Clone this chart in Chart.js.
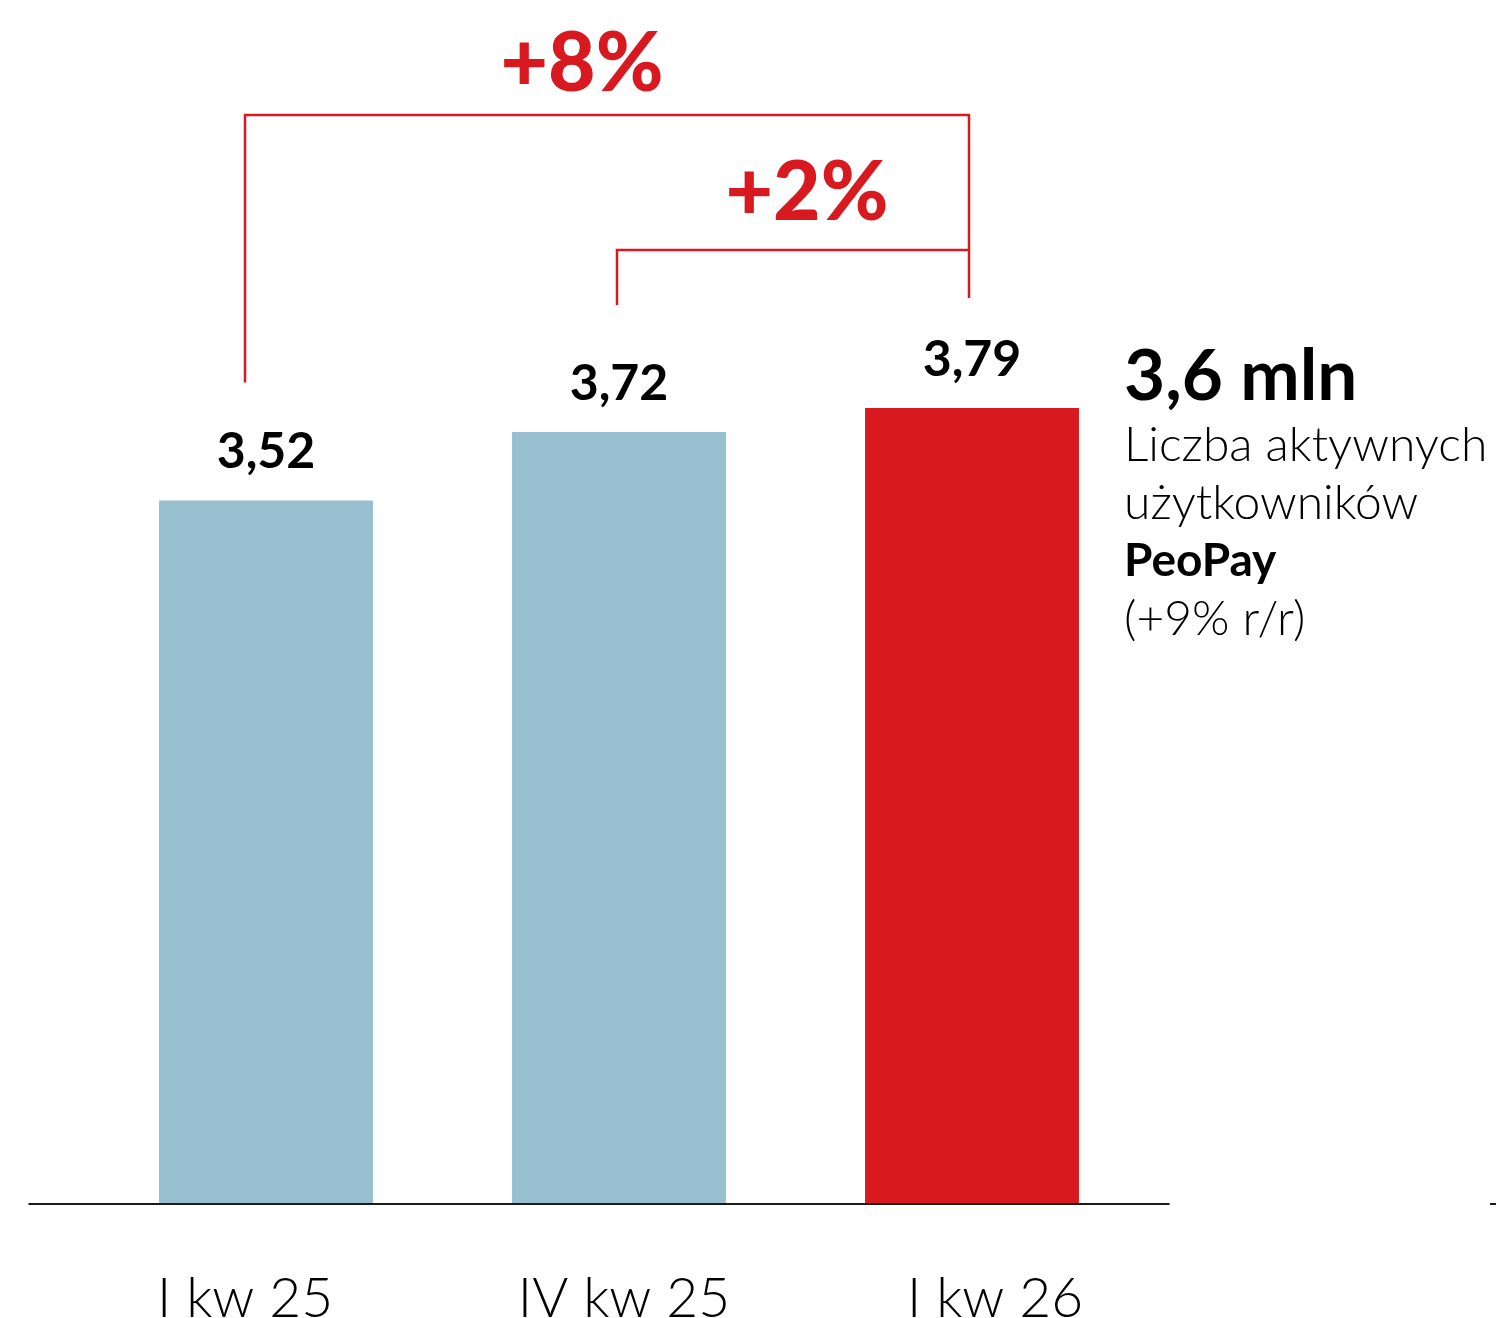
<!DOCTYPE html>
<html><head><meta charset="utf-8">
<script src="https://cdn.jsdelivr.net/npm/chart.js@4.4.1/dist/chart.umd.min.js"></script>
<style>
html,body{margin:0;padding:0;background:#fff;width:1496px;height:1318px;overflow:hidden;font-family:Lato,"Open Sans",sans-serif;}
#wrap{position:absolute;left:0;top:0;width:1496px;height:1318px;overflow:hidden;}
#side{position:absolute;left:1124px;top:332px;color:#000;white-space:nowrap;}
#side .big{font-weight:700;font-size:71px;line-height:82px;}
#side .l{font-weight:300;font-size:48px;line-height:58px;}
#side .b{font-weight:700;font-size:46px;line-height:58px;}
</style></head>
<body>
<div id="wrap"><canvas id="c" width="1496" height="1318"></canvas></div>
<div id="side">
<div class="big">3,6 mln</div>
<div class="l">Liczba aktywnych</div>
<div class="l">użytkowników</div>
<div class="b">PeoPay</div>
<div class="l">(+9% r/r)</div>
</div>
<script>
const categories = ["I kw 25", "IV kw 25", "I kw 26"];
const values = [3.52, 3.72, 3.79];
const valueLabels = ["3,52", "3,72", "3,79"];
const changeLabels = ["+8%", "+2%"];
const barColors = ["#98bfcf", "#98bfcf", "#d91920"];
const RED = "#d91920";
const catLabelShift = [-21, 5, 23];

const annot = {
  id: 'annot',
  afterDatasetsDraw(chart) {
    const ctx = chart.ctx;
    const meta = chart.getDatasetMeta(0);
    const xs = meta.data.map(b => b.x);
    const ys = meta.data.map(b => b.y);
    const ca = chart.chartArea;
    ctx.save();
    // baseline
    ctx.strokeStyle = "#1a1a1a";
    ctx.lineWidth = 2;
    ctx.beginPath();
    ctx.moveTo(ca.left - 61, ca.bottom + 1);
    ctx.lineTo(ca.right + 21, ca.bottom + 1);
    ctx.moveTo(1490, ca.bottom + 1);
    ctx.lineTo(1496, ca.bottom + 1);
    ctx.stroke();
    // category labels
    ctx.fillStyle = "#000";
    ctx.font = "300 55px Lato";
    ctx.textAlign = "center";
    ctx.textBaseline = "alphabetic";
    categories.forEach((t, i) => ctx.fillText(t, xs[i] + catLabelShift[i], ca.bottom + 114));
    // value labels
    ctx.font = "700 50px Lato";
    valueLabels.forEach((t, i) => ctx.fillText(t, xs[i], ys[i] - 32));
    // brackets
    ctx.strokeStyle = RED;
    ctx.lineWidth = 2.5;
    const topY = ys[2] - 293;
    const midY = ys[2] - 158;
    const rx = xs[2] - 3;
    ctx.beginPath();
    ctx.moveTo(xs[0] - 21, ys[0] - 118);
    ctx.lineTo(xs[0] - 21, topY);
    ctx.lineTo(rx, topY);
    ctx.lineTo(rx, ys[2] - 110);
    ctx.moveTo(xs[1] - 2, ys[1] - 127);
    ctx.lineTo(xs[1] - 2, midY);
    ctx.lineTo(rx, midY);
    ctx.stroke();
    // change labels
    ctx.fillStyle = RED;
    ctx.font = "900 82px Lato";
    ctx.textAlign = "center";
    ctx.fillText(changeLabels[0], (xs[0] - 21 + rx) / 2 - 25, topY - 24);
    ctx.fillText(changeLabels[1], (xs[1] + rx) / 2 + 13, midY - 30);
    ctx.restore();
  }
};

new Chart(document.getElementById('c'), {
  type: 'bar',
  data: {
    labels: categories,
    datasets: [{
      data: values,
      backgroundColor: barColors,
      borderWidth: 0,
      barPercentage: 1,
      categoryPercentage: 0.606
    }]
  },
  options: {
    responsive: false,
    animation: false,
    devicePixelRatio: 1,
    layout: { padding: { left: 89.5, right: 347.5, top: 336, bottom: 115 } },
    plugins: { legend: { display: false }, tooltip: { enabled: false } },
    scales: {
      x: { display: false },
      y: {
        display: false,
        min: 1.47,
        max: 4.0
      }
    }
  },
  plugins: [annot]
});
</script>
</body></html>
